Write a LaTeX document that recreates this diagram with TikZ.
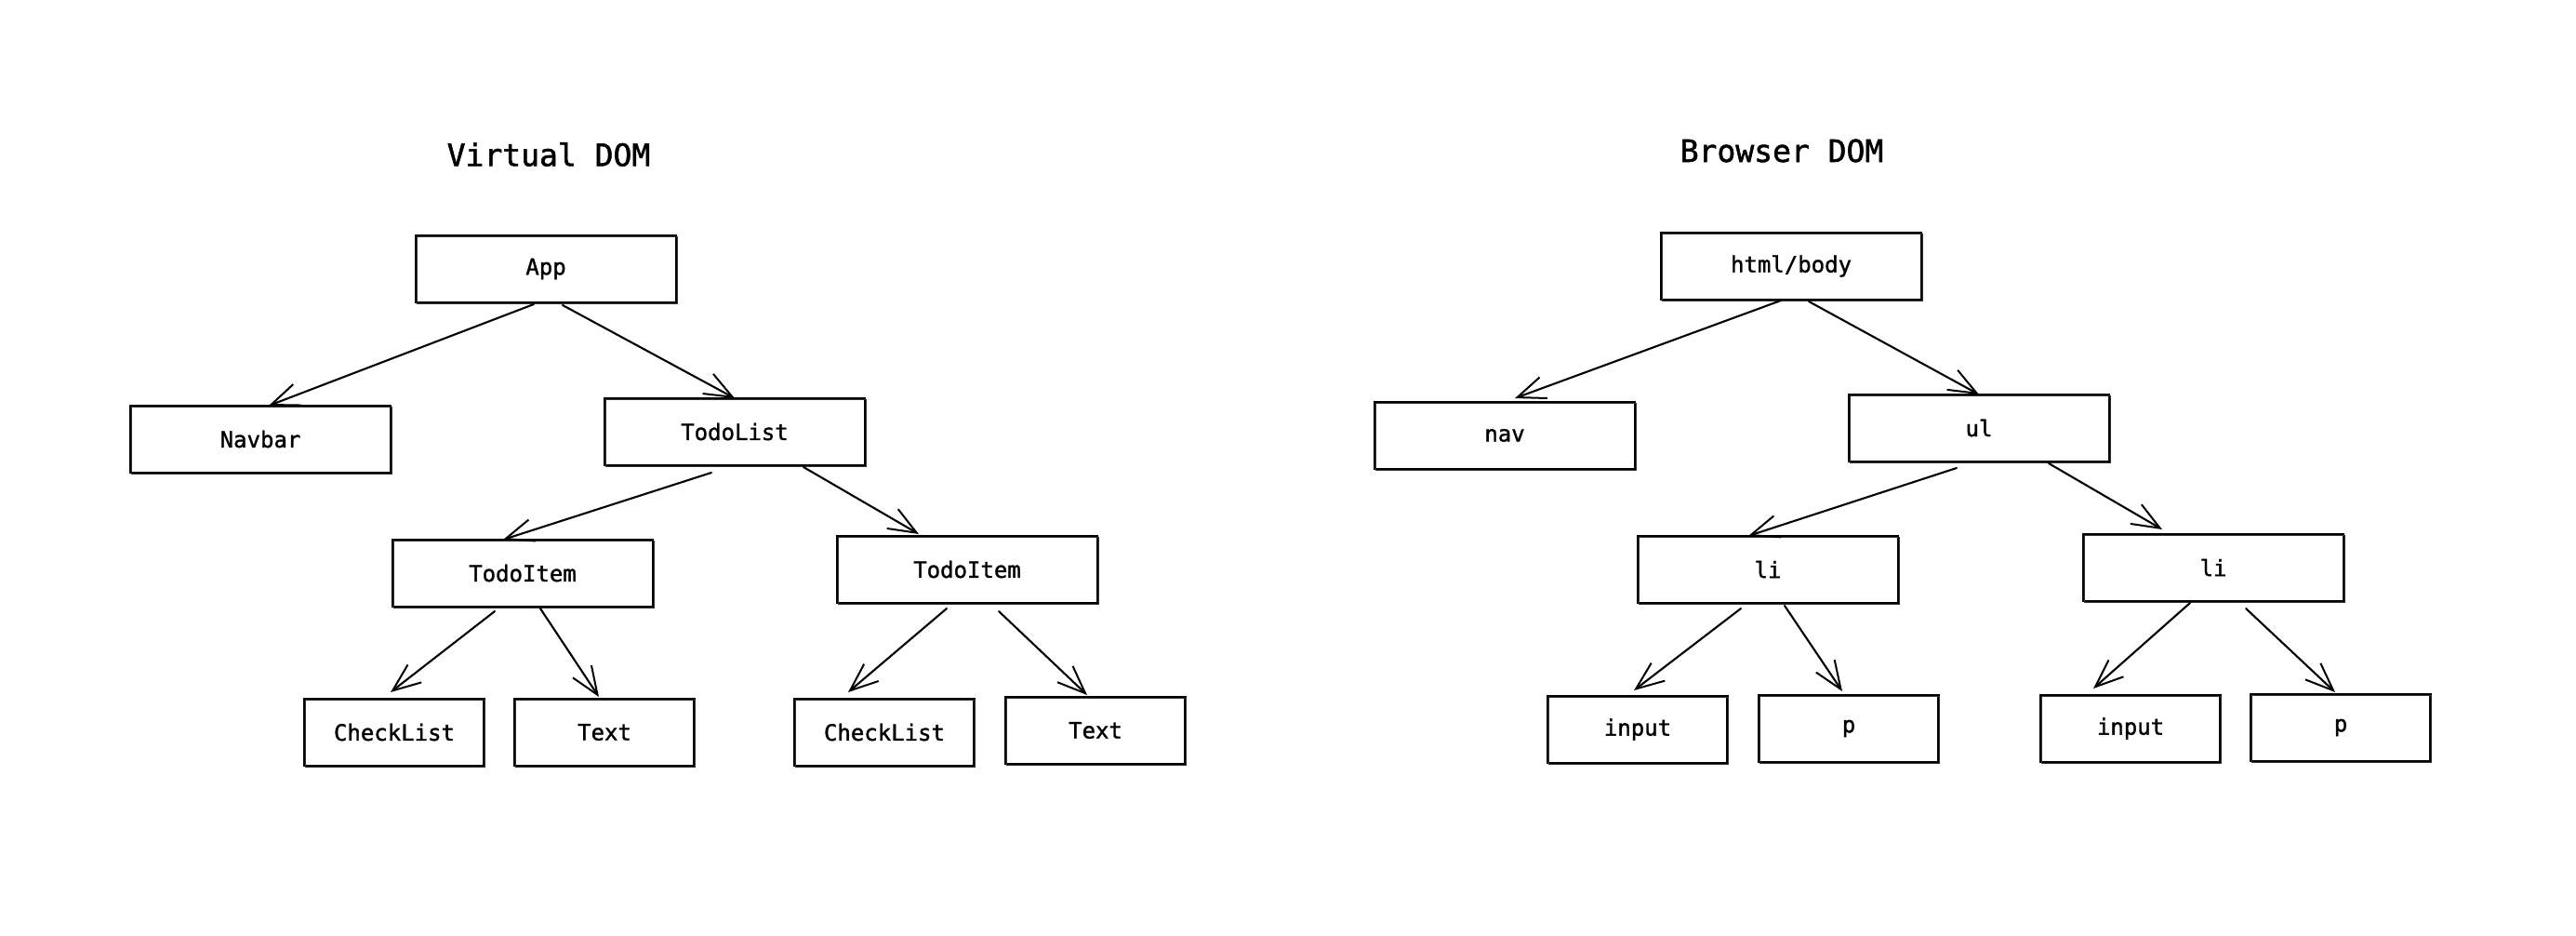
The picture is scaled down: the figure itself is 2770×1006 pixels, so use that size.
\documentclass[tikz,border=0pt]{standalone}
\usepackage{fontspec}
\newfontfamily\labelfont[FakeBold=1.3]{DejaVu Sans Mono}
\newfontfamily\titlefont[FakeBold=1.6]{DejaVu Sans Mono}
\usetikzlibrary{arrows.meta}

\tikzset{
  treebox/.style={draw=black, line width=2.2pt, rectangle, inner sep=0pt, outer sep=0pt,
    font=\labelfont\fontsize{24}{28}\selectfont,
    postaction={draw=black!80, line width=0.9pt, transform canvas={shift={(1.3pt,-1pt)}}}},
  wide/.style={minimum width=280pt, minimum height=72pt},
  narrow/.style={minimum width=193pt, minimum height=72pt},
  heading/.style={font=\titlefont\fontsize{33}{38}\selectfont, inner sep=0pt},
  link/.style={draw=black, line width=2.1pt, line cap=round,
    -{Straight Barb[length=30pt, width=24pt, line width=2pt]}},
}

\begin{document}
\begin{tikzpicture}[x=1pt, y=-1pt]
  \useasboundingbox (0,0) rectangle (2770,1006);
  \fill[white] (0,0) rectangle (2770,1006);

  % ---- Virtual DOM tree ----
  \node[heading] (vtitle) at (590,166) {Virtual DOM};
  \node[treebox, wide] (app)      at (587,289)  {App};
  \node[treebox, wide] (navbar)   at (280,472)  {Navbar};
  \node[treebox, wide] (todolist) at (790,464)  {TodoList};
  \node[treebox, wide] (itemA)    at (562,616)  {TodoItem};
  \node[treebox, wide] (itemB)    at (1040,612) {TodoItem};
  \node[treebox, narrow] (checkA) at (424,787)  {CheckList};
  \node[treebox, narrow] (textA)  at (650,787)  {Text};
  \node[treebox, narrow] (checkB) at (951,787)  {CheckList};
  \node[treebox, narrow] (textB)  at (1178,785) {Text};

  \draw[link] ([xshift=-13pt, yshift=-2pt]app.south) -- ([xshift=9pt]navbar.north);
  \draw[link] ([xshift=18pt, yshift=-3pt]app.south) -- (todolist.north);
  \draw[link] ([xshift=-25pt, yshift=-8pt]todolist.south) -- ([xshift=-21pt]itemA.north);
  \draw[link] ([xshift=74pt, yshift=-2pt]todolist.south) -- ([xshift=-52pt, yshift=2pt]itemB.north);
  \draw[link] ([xshift=-30pt, yshift=-5pt]itemA.south) -- ([xshift=-4pt, yshift=7pt]checkA.north);
  \draw[link] ([xshift=19pt, yshift=-2pt]itemA.south) -- ([xshift=-6pt, yshift=2pt]textA.north);
  \draw[link] ([xshift=-22pt, yshift=-6pt]itemB.south) -- ([xshift=-39pt, yshift=7pt]checkB.north);
  \draw[link] ([xshift=34pt, yshift=-9pt]itemB.south) -- ([xshift=-9pt, yshift=2pt]textB.north);

  % ---- Browser DOM tree ----
  \node[heading] (btitle) at (1916,162) {Browser DOM};
  \node[treebox, wide] (html)   at (1926,286) {html/body};
  \node[treebox, wide] (nav)    at (1618,468) {nav};
  \node[treebox, wide] (ul)     at (2128,460) {ul};
  \node[treebox, wide] (liA)    at (1901,612) {li};
  \node[treebox, wide] (liB)    at (2380,610) {li};
  \node[treebox, narrow] (inA)  at (1761,784) {input};
  \node[treebox, narrow] (pA)   at (1988,783) {p};
  \node[treebox, narrow] (inB)  at (2291,783) {input};
  \node[treebox, narrow] (pB)   at (2517,782) {p};

  \draw[link] ([xshift=-11pt, yshift=-1pt]html.south) -- ([xshift=11pt, yshift=4pt]nav.north);
  \draw[link] ([xshift=19pt, yshift=-2pt]html.south) -- (ul.north);
  \draw[link] ([xshift=-24pt, yshift=-7pt]ul.south) -- ([xshift=-21pt]liA.north);
  \draw[link] ([xshift=75pt, yshift=-2pt]ul.south) -- ([xshift=-55pt, yshift=5pt]liB.north);
  \draw[link] ([xshift=-29pt, yshift=-6pt]liA.south) -- ([xshift=-4pt, yshift=6pt]inA.north);
  \draw[link] ([xshift=18pt, yshift=-3pt]liA.south) -- ([xshift=-7pt, yshift=4pt]pA.north);
  \draw[link] ([xshift=-25pt, yshift=-2pt]liB.south) -- ([xshift=-40pt, yshift=7pt]inB.north);
  \draw[link] ([xshift=35pt, yshift=-8pt]liB.south) -- ([xshift=-6pt, yshift=2pt]pB.north);
\end{tikzpicture}
\end{document}
